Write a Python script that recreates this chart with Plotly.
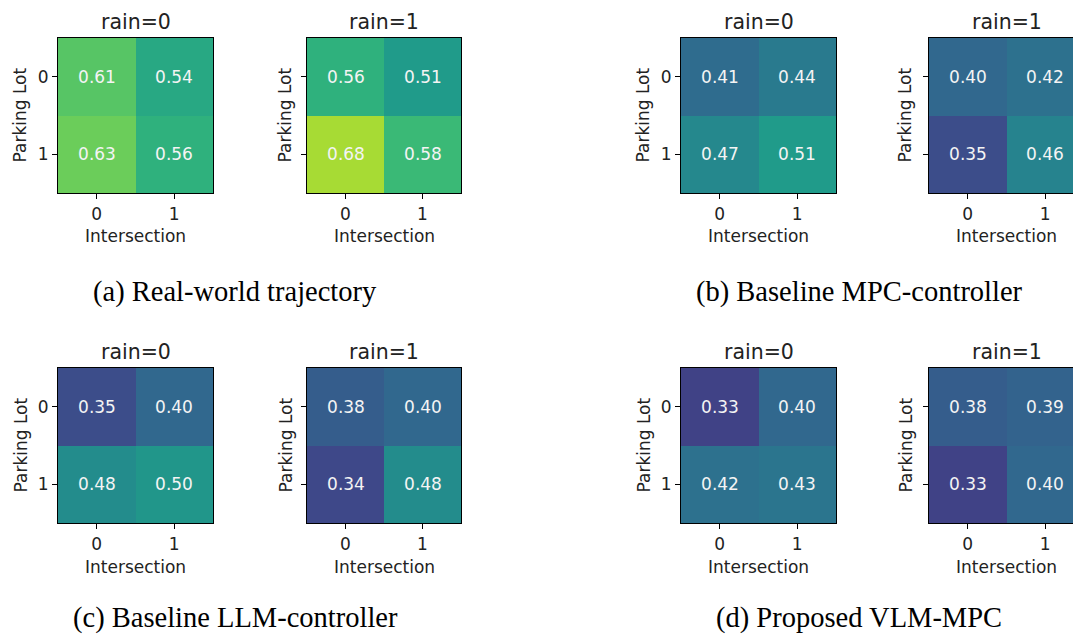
import plotly.graph_objects as go

# ---- data ----
intersection = [0, 1]
parking_lot = [0, 1]
rain_titles = ["rain=0", "rain=1"]
captions = ["(a) Real-world trajectory", "(b) Baseline MPC-controller",
            "(c) Baseline LLM-controller", "(d) Proposed VLM-MPC"]

real_rain0 = [[0.61, 0.54], [0.63, 0.56]]
real_rain1 = [[0.56, 0.51], [0.68, 0.58]]
mpc_rain0 = [[0.41, 0.44], [0.47, 0.51]]
mpc_rain1 = [[0.40, 0.42], [0.35, 0.46]]
llm_rain0 = [[0.35, 0.40], [0.48, 0.50]]
llm_rain1 = [[0.38, 0.40], [0.34, 0.48]]
vlm_rain0 = [[0.33, 0.40], [0.42, 0.43]]
vlm_rain1 = [[0.38, 0.39], [0.33, 0.40]]

panel_data = [(real_rain0, real_rain1), (mpc_rain0, mpc_rain1),
              (llm_rain0, llm_rain1), (vlm_rain0, vlm_rain1)]

# ---- layout geometry (pixels) ----
W, H = 1073, 636
ZMIN, ZMAX = 0.225, 0.75
FONT = "DejaVu Sans"
panel_x = [(58, 213, 307, 461), (681, 836, 929, 1084)]
row_y = [(38, 193), (368, 523)]
title_y = [22, 352]
xlabel_y = [236, 567]
caption_y = [292, 618]
caption_x = [235, 859]
ylabel_x = [(20, 285), (643, 905)]


def px(x):
    return x / W


def py(y):
    return 1 - y / H


fig = go.Figure()
layout = {}
annotations = []
idx = 0
for p, (d0, d1) in enumerate(panel_data):
    r, c = divmod(p, 2)
    x0a, x1a, x0b, x1b = panel_x[c]
    ytop, ybot = row_y[r]
    for k, z in enumerate((d0, d1)):
        idx += 1
        xs, xe = (x0a, x1a) if k == 0 else (x0b, x1b)
        clipped = xe > W
        xe_vis = min(xe, W)
        xr = [-0.5, -0.5 + 2 * (xe_vis - xs) / (xe - xs)]
        xn = "x" if idx == 1 else f"x{idx}"
        yn = "y" if idx == 1 else f"y{idx}"
        fig.add_trace(go.Heatmap(
            z=z, x=intersection, y=parking_lot, xaxis=xn, yaxis=yn,
            colorscale="Viridis", zmin=ZMIN, zmax=ZMAX, showscale=False,
            texttemplate="%{z:.2f}",
            textfont=dict(color="#f4f4f4", size=17, family=FONT),
            hoverinfo="skip"))
        axcommon = dict(showline=True, linecolor="black", linewidth=1.2,
                        ticks="outside", ticklen=5, tickwidth=1.2,
                        tickcolor="black", showgrid=False, zeroline=False,
                        tickfont=dict(size=17, family=FONT, color="#222"))
        layout["xaxis" if idx == 1 else f"xaxis{idx}"] = dict(
            domain=[px(xs), px(xe_vis)], range=xr, tickvals=intersection,
            anchor=yn, mirror=True, **axcommon)
        layout["yaxis" if idx == 1 else f"yaxis{idx}"] = dict(
            domain=[py(ybot), py(ytop)], range=[1.5, -0.5],
            tickvals=parking_lot, anchor=xn, mirror=not clipped,
            showticklabels=(k == 0), **axcommon)
        annotations.append(dict(text=rain_titles[k], xref=xn, x=0.5,
                                yref="paper", y=py(title_y[r]),
                                showarrow=False, xanchor="center",
                                yanchor="middle",
                                font=dict(size=20.5, family=FONT, color="#222")))
        annotations.append(dict(text="Intersection", xref=xn, x=0.5,
                                yref="paper", y=py(xlabel_y[r]),
                                showarrow=False, xanchor="center",
                                yanchor="middle",
                                font=dict(size=17, family=FONT, color="#222")))
        annotations.append(dict(text="Parking Lot", xref="paper",
                                x=px(ylabel_x[c][k]), yref="paper",
                                y=py((ytop + ybot) / 2), textangle=-90,
                                showarrow=False, xanchor="center",
                                yanchor="middle",
                                font=dict(size=17, family=FONT, color="#222")))
    annotations.append(dict(text=captions[p], xref="paper", x=px(caption_x[c]),
                            yref="paper", y=py(caption_y[r]), showarrow=False,
                            xanchor="center", yanchor="middle",
                            font=dict(size=28.5, family="Liberation Serif",
                                      color="black")))

fig.update_layout(width=W, height=H, margin=dict(l=0, r=0, t=0, b=0),
                  paper_bgcolor="white", plot_bgcolor="white",
                  showlegend=False, annotations=annotations, **layout)
fig.write_html("out.html", config={"displayModeBar": False},
               post_script="document.body.style.margin='0px';"
                           "document.body.style.overflow='hidden';")
